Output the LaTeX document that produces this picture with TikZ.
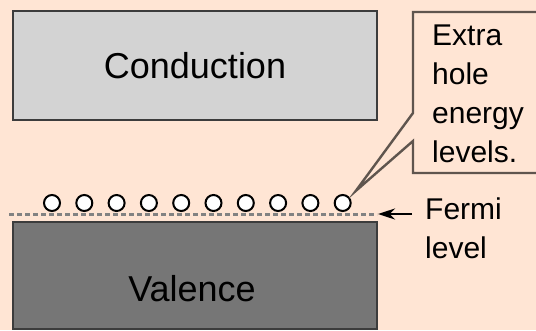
\documentclass[tikz,border=0pt]{standalone}
\usepackage{fontspec}
\setmainfont{Liberation Sans}
\usetikzlibrary{calc,arrows.meta}
\definecolor{bgpeach}{RGB}{255,229,212}
\definecolor{condgray}{RGB}{211,211,211}
\definecolor{valgray}{RGB}{118,118,118}
\definecolor{edgegray}{RGB}{60,60,60}
\definecolor{calloutedge}{RGB}{95,85,78}
\definecolor{fermigray}{RGB}{130,130,130}
\tikzset{
	band/.style={draw=edgegray,line width=2.6pt,minimum width=364pt,inner sep=0pt},
	bigtext/.style={font=\fontsize{36}{40}\selectfont},
	labeltext/.style={font=\fontsize{30}{39}\selectfont,align=left,inner sep=0pt},
	hole/.style={circle,draw=black,fill=white,line width=2pt,minimum size=16pt,inner sep=0pt},
}

\begin{document}
\begin{tikzpicture}[x=1pt,y=-1pt]
\useasboundingbox[fill=bgpeach] (0,0) rectangle (536,330);
\node[band,fill=condgray,minimum height=109pt,bigtext] (conduction) at (195,65.5) {Conduction};
\node[band,fill=valgray,minimum height=107pt] (valence) at (195,275.5) {};
\node[bigtext] (valtext) at (192,289) {Valence};
\draw[fermigray,line width=3pt,dash pattern=on 5pt off 3pt] (9,214) coordinate (F0) -- (377,214) coordinate (F1);
\foreach \i in {0,...,9} {
	\node[hole] (h\i) at ($ (52,203) + (32.3*\i,0) $) {};
}
\coordinate (tip) at ($ (h9) + (13,-12) $);
\node[labeltext,anchor=north west] (extra) at (432,25) {Extra\\hole\\energy\\levels.};
\draw[calloutedge,line width=2.4pt] (545,12) -| (413,113) -- (tip) -- (413,141) |- (545,173);
\node[labeltext,anchor=north west] (fermi) at (425,198) {Fermi\\level};
\coordinate (tail) at (412,214);
\draw[line width=2.5pt,-{Stealth[length=17pt,width=11pt]},shorten >=1pt] (tail) -- (F1);
\end{tikzpicture}
\end{document}
